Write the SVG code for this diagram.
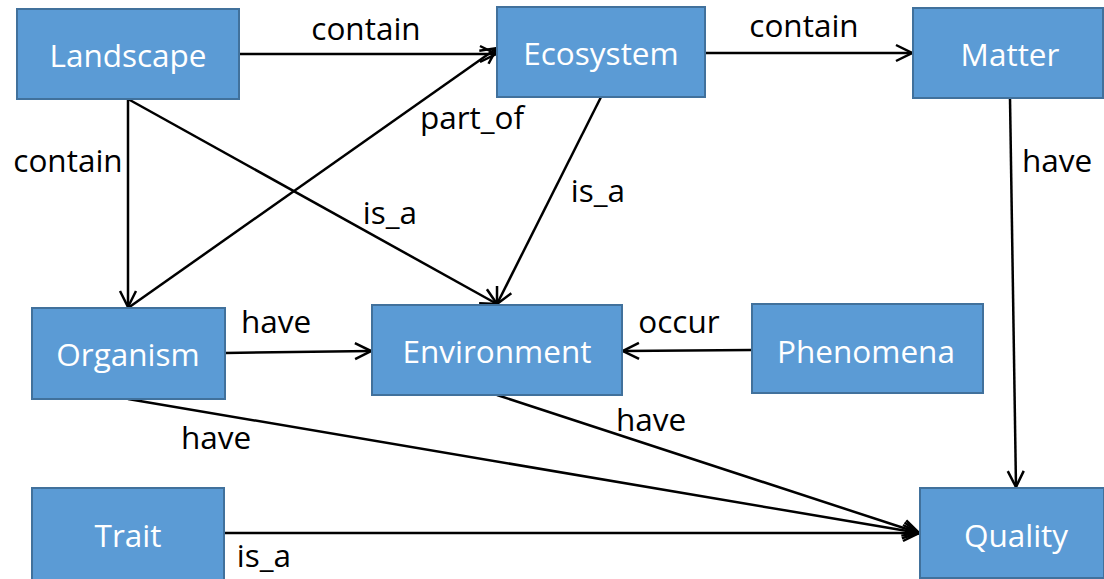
<svg xmlns="http://www.w3.org/2000/svg" width="1104" height="579" viewBox="0 0 1104 579">
  <style>
    .box { fill: #5B9BD5; stroke: #41719C; stroke-width: 2; }
    .name { font-family: "Open Sans", "Liberation Sans", sans-serif; font-size: 31.5px; fill: #ffffff; text-anchor: middle; dominant-baseline: central; }
    .edge { fill: none; stroke: #000000; stroke-width: 2.5; marker-end: url(#arrow); }
    .lbl { font-family: "Open Sans", "Liberation Sans", sans-serif; font-size: 31.5px; fill: #000000; text-anchor: middle; dominant-baseline: central; }
  </style>
  <defs>
    <marker id="arrow" viewBox="0 0 20 20" refX="19" refY="10" markerWidth="20" markerHeight="20" markerUnits="userSpaceOnUse" orient="auto">
      <path d="M3,2 L19,10 L3,18" fill="none" stroke="#000000" stroke-width="2.5" stroke-linejoin="miter"/>
    </marker>
  </defs>
  <rect width="1104" height="579" fill="#ffffff"/>

  <g id="connectors">
    <line class="edge" x1="239" y1="54" x2="496" y2="54"/>
    <line class="edge" x1="705" y1="53" x2="912" y2="53"/>
    <line class="edge" x1="128" y1="99" x2="128" y2="307"/>
    <line class="edge" x1="128" y1="99" x2="497" y2="304"/>
    <line class="edge" x1="128" y1="308" x2="497" y2="48"/>
    <line class="edge" x1="601" y1="97" x2="497" y2="304"/>
    <line class="edge" x1="1010" y1="98" x2="1016" y2="487"/>
    <line class="edge" x1="225" y1="353" x2="371" y2="351"/>
    <line class="edge" x1="752" y1="350" x2="623" y2="351"/>
    <line class="edge" x1="128" y1="399" x2="919" y2="533"/>
    <line class="edge" x1="497" y1="395" x2="919" y2="533"/>
    <line class="edge" x1="224" y1="533" x2="919" y2="533"/>
    <text class="lbl" x="366" y="27">contain</text>
    <text class="lbl" x="804" y="24">contain</text>
    <text class="lbl" x="68" y="159">contain</text>
    <text class="lbl" x="390" y="211">is_a</text>
    <text class="lbl" x="472" y="116">part_of</text>
    <text class="lbl" x="598" y="189">is_a</text>
    <text class="lbl" x="1057" y="159">have</text>
    <text class="lbl" x="276" y="320">have</text>
    <text class="lbl" x="679" y="320">occur</text>
    <text class="lbl" x="216" y="436">have</text>
    <text class="lbl" x="651" y="418">have</text>
    <text class="lbl" x="264" y="554">is_a</text>
  </g>

  <g id="landscape"><rect class="box" x="17" y="9" width="222" height="90"/><text class="name" x="128" y="54">Landscape</text></g>
  <g id="ecosystem"><rect class="box" x="497" y="7" width="208" height="90"/><text class="name" x="601" y="52">Ecosystem</text></g>
  <g id="matter"><rect class="box" x="913" y="8" width="190" height="90"/><text class="name" x="1010" y="53">Matter</text></g>
  <g id="organism"><rect class="box" x="32" y="308" width="193" height="91"/><text class="name" x="128" y="353">Organism</text></g>
  <g id="environment"><rect class="box" x="372" y="305" width="250" height="90"/><text class="name" x="497" y="350">Environment</text></g>
  <g id="phenomena"><rect class="box" x="752" y="304" width="231" height="89"/><text class="name" x="866" y="350">Phenomena</text></g>
  <g id="trait"><rect class="box" x="32" y="488" width="192" height="92"/><text class="name" x="128" y="534">Trait</text></g>
  <g id="quality"><rect class="box" x="920" y="488" width="184" height="90"/><text class="name" x="1016" y="534">Quality</text></g>
</svg>
